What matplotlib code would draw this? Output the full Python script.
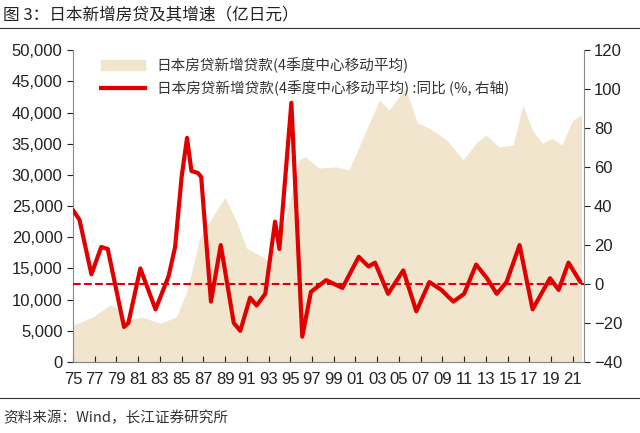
import numpy as np
import matplotlib
matplotlib.use("Agg")
import matplotlib.pyplot as plt
from matplotlib.lines import Line2D

plt.rcParams['font.family'] = ['Noto Sans CJK SC', 'DejaVu Sans']

area_x = [1975, 1976.8, 1978.4, 1978.9, 1980, 1981.4, 1983, 1984.5, 1985.5, 1986.7, 1988.2, 1989,
          1990, 1991, 1992.2, 1993, 1994.6, 1995.8, 1996.4, 1997.6, 1999.2, 2000.4, 2001.6, 2003.2,
          2004.1, 2005.6, 2006.7, 2007.8, 2009.4, 2010.9, 2012.1, 2013, 2014.2, 2015.5, 2016.4,
          2017.3, 2018.2, 2019.1, 2020, 2021, 2021.8]
area_y = [5900, 7200, 9100, 8900, 6700, 7200, 6200, 7200, 11500, 20000, 24300, 26400,
          22700, 18200, 17100, 16300, 23200, 32400, 32900, 31100, 31300, 30800, 35600, 42000,
          40400, 43900, 38300, 37500, 35600, 32400, 35100, 36400, 34500, 34800, 41200,
          37100, 35100, 35900, 34800, 38800, 39600]

yoy_x = [1975, 1975.6, 1976.7, 1977.6, 1978.2, 1979.7, 1980.1, 1981.2, 1982.6, 1983.8, 1984.4,
         1985, 1985.5, 1985.9, 1986.5, 1986.8, 1987.7, 1988.6, 1989.8, 1990.4, 1991.3, 1991.9,
         1992.7, 1993.6, 1994, 1995.1, 1996.1, 1996.9, 1998.3, 1999.8, 2001.3, 2002.2, 2002.8,
         2004, 2005.4, 2006.6, 2007.8, 2008.9, 2010, 2011, 2012.1, 2013.1, 2014, 2014.9, 2016.1,
         2017.3, 2018.9, 2019.7, 2020.6, 2021.7]
yoy_y = [38, 33, 5, 19, 18, -22, -20, 8, -13, 4, 19,
         55, 75, 58, 57, 55, -9, 20, -20, -24, -7, -11,
         -5, 32, 18, 93, -27, -4, 2, -2, 14, 9, 11,
         -5, 7, -14, 1, -3, -9, -5, 10, 3, -5, 1, 20,
         -13, 3, -3, 11, 1]

years = list(range(1975, 2022, 2))
labels = [f"{y % 100:02d}" for y in years]

fig = plt.figure(figsize=(6.4, 4.33), dpi=100)
ax = fig.add_axes([0.114, 0.164, 0.798, 0.72])
ax2 = ax.twinx()

ax.fill_between(area_x, area_y, color='#F2E5CE', lw=0)
ax.set_ylim(0, 50000)
ax.set_xlim(1975, 2022)
ax.set_yticks(range(0, 50001, 5000))
ax.set_yticklabels([f"{v:,}" for v in range(0, 50001, 5000)])
ax.set_xticks(years)
ax.set_xticklabels(labels)

ax2.plot(yoy_x, yoy_y, color='#E00000', lw=3, solid_joinstyle='round', solid_capstyle='round')
ax2.axhline(0, color='#E00000', lw=1.5, ls='--')
ax2.set_ylim(-40, 120)
ax2.set_yticks(range(-40, 121, 20))

for a in (ax, ax2):
    a.spines['top'].set_visible(False)
    a.tick_params(labelsize=12, colors='#222222', direction='out', length=4)
    for s in a.spines.values():
        s.set_color('#888888')
    for t in a.get_xticklabels() + a.get_yticklabels():
        t.set_fontfamily('Liberation Sans')
ax.tick_params(axis='x', direction='in', pad=7)
ax.spines['right'].set_visible(False)
ax2.spines['left'].set_visible(False)

handles = [plt.Rectangle((0, 0), 1, 1, color='#F2E5CE'),
           Line2D([0], [0], color='#E00000', lw=3)]
ax2.legend(handles, ['日本房贷新增贷款(4季度中心移动平均)',
                     '日本房贷新增贷款(4季度中心移动平均) :同比 (%, 右轴)'],
           loc='upper left', bbox_to_anchor=(0.03, 1.02), frameon=False,
           fontsize=10.5, handlelength=3, labelspacing=0.5, labelcolor='#333333')

fig.text(0.005, 0.965, '图 3：日本新增房贷及其增速（亿日元）', fontsize=12, color='#222222', va='center')
fig.add_artist(Line2D([0, 1], [0.935, 0.935], color='#333333', lw=0.8))
fig.add_artist(Line2D([0, 1], [0.08, 0.08], color='#333333', lw=0.8))
fig.text(0.005, 0.035, '资料来源：Wind，长江证券研究所', fontsize=10.5, color='#333333', va='center')

fig.savefig('out.png', dpi=100)
